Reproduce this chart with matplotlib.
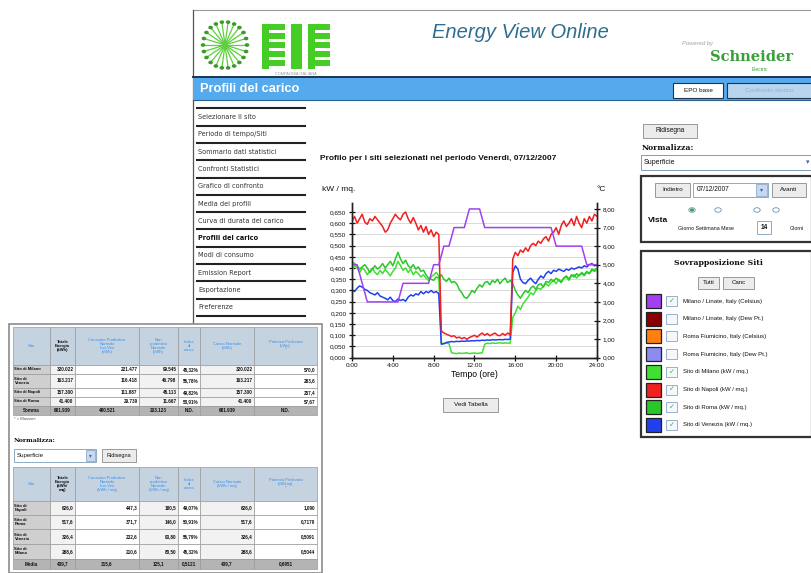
#!/usr/bin/env python3
"""
Energy View Online screenshot: load profiles for the selected sites (07/12/2007).
"""

import matplotlib

matplotlib.use("Agg")
import matplotlib.pyplot as plt
import numpy as np
from matplotlib.patches import Rectangle, Circle
from matplotlib.ticker import FixedLocator, FuncFormatter

W, H = 812, 573
UI_FONT = ["Liberation Sans", "DejaVu Sans"]

# ---- chart data ----
# 15-minute values, kW / mq.
TIME_15 = np.linspace(0, 24, 97)
NAPOLI = [
    0.610, 0.630, 0.600, 0.620, 0.640, 0.605, 0.595, 0.620,
    0.610, 0.630, 0.615, 0.600, 0.585, 0.560, 0.570, 0.600,
    0.620, 0.640, 0.625, 0.615, 0.640, 0.650, 0.620, 0.600,
    0.625, 0.600, 0.570, 0.590, 0.560, 0.585, 0.550, 0.570,
    0.540, 0.560, 0.550, 0.120, 0.110, 0.105, 0.100, 0.095,
    0.098, 0.088, 0.092, 0.085, 0.090, 0.082, 0.090, 0.095,
    0.100, 0.092, 0.102, 0.110, 0.100, 0.108, 0.098, 0.104,
    0.110, 0.100, 0.098, 0.108, 0.100, 0.110, 0.102, 0.440,
    0.470, 0.455, 0.480, 0.470, 0.490, 0.475, 0.500, 0.510,
    0.500, 0.520, 0.510, 0.530, 0.540, 0.520, 0.550, 0.560,
    0.580, 0.550, 0.590, 0.610, 0.585, 0.600, 0.620, 0.590,
    0.630, 0.600, 0.580, 0.620, 0.600, 0.630, 0.610, 0.640,
    0.630,
]
MILANO = [
    0.390, 0.410, 0.400, 0.380, 0.400, 0.390, 0.370, 0.385,
    0.400, 0.380, 0.370, 0.390, 0.375, 0.395, 0.380, 0.365,
    0.385, 0.400, 0.430, 0.410, 0.390, 0.400, 0.380, 0.395,
    0.370, 0.385, 0.375, 0.360, 0.370, 0.355, 0.345, 0.360,
    0.370, 0.380, 0.365, 0.065, 0.062, 0.065, 0.063, 0.022,
    0.020, 0.018, 0.021, 0.019, 0.020, 0.022, 0.018, 0.020,
    0.021, 0.019, 0.020, 0.022, 0.060, 0.065, 0.063, 0.066,
    0.064, 0.065, 0.067, 0.064, 0.066, 0.065, 0.065, 0.180,
    0.200, 0.230, 0.215, 0.240, 0.255, 0.270, 0.290, 0.280,
    0.300, 0.310, 0.305, 0.320, 0.330, 0.320, 0.335, 0.345,
    0.330, 0.350, 0.340, 0.355, 0.360, 0.345, 0.365, 0.370,
    0.355, 0.370, 0.375, 0.365, 0.380, 0.375, 0.390, 0.385,
    0.390,
]
ROMA = [
    0.430, 0.420, 0.410, 0.395, 0.405, 0.415, 0.400, 0.380,
    0.395, 0.410, 0.395, 0.405, 0.420, 0.400, 0.415, 0.430,
    0.410, 0.440, 0.470, 0.440, 0.420, 0.435, 0.410, 0.400,
    0.415, 0.395, 0.405, 0.385, 0.390, 0.370, 0.355, 0.350,
    0.345, 0.360, 0.355, 0.370, 0.350, 0.340, 0.355, 0.335,
    0.340, 0.330, 0.305, 0.290, 0.270, 0.265, 0.280, 0.300,
    0.290, 0.310, 0.325, 0.315, 0.335, 0.340, 0.325, 0.345,
    0.335, 0.350, 0.330, 0.345, 0.355, 0.335, 0.345, 0.330,
    0.300, 0.280, 0.265, 0.285, 0.300, 0.290, 0.310, 0.320,
    0.305, 0.325, 0.330, 0.315, 0.340, 0.335, 0.350, 0.340,
    0.355, 0.345, 0.335, 0.355, 0.365, 0.350, 0.370, 0.360,
    0.375, 0.365, 0.380, 0.370, 0.385, 0.375, 0.395, 0.390,
    0.400,
]
VENEZIA = [
    0.300, 0.295, 0.310, 0.320, 0.315, 0.305, 0.300, 0.290,
    0.285, 0.280, 0.290, 0.275, 0.270, 0.265, 0.258, 0.270,
    0.255, 0.250, 0.262, 0.255, 0.260, 0.252, 0.270, 0.280,
    0.275, 0.285, 0.280, 0.295, 0.285, 0.295, 0.290, 0.300,
    0.290, 0.295, 0.285, 0.060, 0.063, 0.068, 0.070, 0.072,
    0.071, 0.073, 0.072, 0.074, 0.073, 0.075, 0.074, 0.076,
    0.075, 0.077, 0.076, 0.078, 0.077, 0.079, 0.078, 0.080,
    0.079, 0.080, 0.081, 0.080, 0.082, 0.081, 0.083, 0.380,
    0.410, 0.395, 0.350, 0.335, 0.330, 0.345, 0.355, 0.340,
    0.330, 0.350, 0.365, 0.355, 0.375, 0.385, 0.375, 0.390,
    0.385, 0.395, 0.390, 0.385, 0.395, 0.390, 0.400, 0.395,
    0.400, 0.405, 0.400, 0.410, 0.405, 0.415, 0.420, 0.410,
    0.415,
]
# half-hourly temperature, Milano / Linate (Celsius), right axis
TIME_30 = np.linspace(0, 24, 49)
LINATE_C = [
    5, 5, 4, 3, 3, 3, 3, 3, 3, 3, 4, 4, 4, 4, 4, 4,
    5, 5, 6, 6, 7, 7, 7, 8, 8, 8, 7, 7, 7, 7, 7, 7,
    7, 7, 7, 7, 7, 7, 7, 7, 6, 6, 6, 6, 6, 6, 5, 5, 5,
]

LEFT_TICKS = [0.0, 0.05, 0.10, 0.15, 0.20, 0.25, 0.30, 0.35, 0.40, 0.45, 0.50, 0.55, 0.60, 0.65]
RIGHT_TICKS = [0, 1, 2, 3, 4, 5, 6, 7, 8]
X_TICKS = [0, 4, 8, 12, 16, 20, 24]
X_LABELS = ["0:00", "4:00", "8:00", "12:00", "16:00", "20:00", "24:00"]

MENU_ITEMS = [
    "Selezionare il sito", "Periodo di tempo/Siti", "Sommario dati statistici",
    "Confronti Statistici", "Grafico di confronto", "Media dei profili",
    "Curva di durata del carico", "Profili del carico", "Modi di consumo",
    "Emission Report", "Esportazione", "Preferenze",
]
LEGEND_LABELS = [
    "Milano / Linate, Italy (Celsius)", "Milano / Linate, Italy (Dew Pt.)",
    "Roma Fiumicino, Italy (Celsius)", "Roma Fiumicino, Italy (Dew Pt.)",
    "Sito di Milano (kW / mq.)", "Sito di Napoli (kW / mq.)",
    "Sito di Roma (kW / mq.)", "Sito di Venezia (kW / mq.)",
]
LEGEND_COLORS = ["#a040f0", "#8a0000", "#ff8010", "#8c8cf0", "#40e030", "#f02020", "#28c828", "#2040f0"]
LEGEND_CHECKED = [True, False, False, False, True, True, True, True]

# table overlay (bottom left)
TAB1_HEAD = ["Sito", "Totale\nEnergia\n(kWh)", "Consumo Produttivo\nNormale\nLun-Ven\n(kWh)",
             "Non\nproduttivo\nNormale\n(kWh)", "Indice\ndi\ncarico", "Carico Normale\n(kWh)",
             "Potenza Prelevata\n(kWp)\n*"]
TAB1_ROWS = [
    ["Sito di Milano", "320.022", "221.477", "99.545", "45,32%", "320.022", "570,0"],
    ["Sito di\nVenezia", "163.217", "116.418", "46.798", "55,78%", "163.217", "283,6"],
    ["Sito di Napoli", "157.300", "111.887", "45.113", "49,82%", "157.300", "257,4"],
    ["Sito di Roma", "41.400", "29.739", "11.667", "58,91%", "41.400", "57,67"],
    ["Somma", "681.939", "480.521", "203.123", "N.D.", "681.939", "N.D."],
]
TAB2_HEAD = ["Sito", "Totale\nEnergia\n(kWh/\nmq)", "Consumo Produttivo\nNormale\nLun-Ven\n(kWh / mq)",
             "Non\nproduttivo\nNormale\n(kWh / mq)", "Indice\ndi\ncarico", "Carico Normale\n(kWh / mq)",
             "Potenza Prelevata\n(kW/mq)\n*"]
TAB2_ROWS = [
    ["Sito di\nNapoli", "626,0", "447,3", "180,5", "49,07%", "626,0", "1,090"],
    ["Sito di\nRoma", "517,6", "371,7", "146,0", "50,91%", "517,6", "0,7179"],
    ["Sito di\nVenezia", "326,4", "232,6", "93,80", "55,79%", "326,4", "0,5091"],
    ["Sito di\nMilano", "288,6", "210,6", "80,50", "45,32%", "288,6", "0,5044"],
    ["Media", "439,7", "315,6", "125,1", "0,5121", "439,7", "0,6951"],
]


def fx(x):
    return x / W


def fy(y):
    return 1 - y / H


def box(fig, x0, y0, x1, y1, fc="white", ec="#888888", lw=0.6, z=1):
    fig.patches.append(Rectangle((fx(x0), fy(y1)), (x1 - x0) / W, (y1 - y0) / H,
                                 transform=fig.transFigure, facecolor=fc, edgecolor=ec,
                                 linewidth=lw, zorder=z))


def hline(fig, x0, x1, y, color="#222222", lw=1.0, z=2):
    fig.add_artist(plt.Line2D([fx(x0), fx(x1)], [fy(y), fy(y)], transform=fig.transFigure,
                              color=color, linewidth=lw, zorder=z))


def vline(fig, x, y0, y1, color="#222222", lw=1.0, z=2):
    fig.add_artist(plt.Line2D([fx(x), fx(x)], [fy(y0), fy(y1)], transform=fig.transFigure,
                              color=color, linewidth=lw, zorder=z))


def label(fig, x, y, s, size=5.0, **kw):
    kw.setdefault("va", "center")
    kw.setdefault("family", UI_FONT)
    kw.setdefault("color", "#111111")
    fig.text(fx(x), fy(y), s, fontsize=size, **kw)


def button(fig, x0, y0, x1, y1, s, size=4.8, z=3):
    box(fig, x0, y0, x1, y1, fc="#ececec", ec="#8a8a8a", lw=0.6, z=z)
    label(fig, (x0 + x1) / 2, (y0 + y1) / 2, s, size=size, ha="center", zorder=z + 1)


def draw_header(fig):
    hline(fig, 193, 812, 10, color="#999999", lw=0.8)
    vline(fig, 193, 10, 438, color="#555555", lw=0.9)

    # sunburst logo
    cx, cy = 225, 45
    for ang in np.linspace(0, 2 * np.pi, 22, endpoint=False):
        r = 22
        ex, ey = cx + r * np.cos(ang), cy + r * np.sin(ang) * 1.05
        fig.add_artist(plt.Line2D([fx(cx), fx(ex)], [fy(cy), fy(ey)], transform=fig.transFigure,
                                  color="#5ccf3a", linewidth=0.9, zorder=3))
        fig.add_artist(Circle((fx(ex), fy(ey)), 1.6 / W, transform=fig.transFigure,
                              color="#3d9a2a", zorder=4))
    # EIE blocks
    green = "#45cc25"
    for x0, x1 in [(262, 285), (308, 330)]:
        box(fig, x0, 24, x0 + 7, 69, fc=green, ec="none", z=3)
        for y0 in (24, 33, 42, 51, 60):
            box(fig, x0, y0, x1, y0 + 6, fc=green, ec="none", z=3)
    box(fig, 291, 24, 302, 69, fc=green, ec="none", z=3)
    label(fig, 296, 18, "·  ·  ·  ·  ·  ·  ·", size=4, ha="center", color="#9a9a9a")
    label(fig, 296, 74, "COMPAGNIA ITALIANA", size=2.8, ha="center", color="#9a9a9a")

    label(fig, 520, 33, "Energy View Online", size=14.5, ha="center", style="italic",
          color="#2f6d8e")
    label(fig, 698, 44, "Powered by", size=4.2, ha="center", style="italic", color="#9aa6a0")
    label(fig, 752, 57, "Schneider", size=10.5, ha="center", weight="bold", color="#3a9e3a",
          family=["DejaVu Serif"])
    label(fig, 760, 70, "Electric", size=3.5, ha="center", color="#3a9e3a")

    # title bar
    box(fig, 193, 77, 812, 100, fc="#55aaee", ec="none", z=2)
    hline(fig, 193, 812, 77, color="#1d3550", lw=1.4, z=3)
    hline(fig, 193, 812, 100, color="#2c5f90", lw=0.8, z=3)
    label(fig, 200, 88.5, "Profili del carico", size=9.2, weight="bold", color="white", zorder=4)
    box(fig, 673, 83, 723, 98, fc="white", ec="#1d3550", lw=0.8, z=4)
    label(fig, 698, 90.5, "EPO base", size=4.6, ha="center", zorder=5)
    box(fig, 727, 83, 812, 98, fc="#b9d4ee", ec="#1d3550", lw=0.8, z=4)
    label(fig, 769, 90.5, "Confronto storico", size=4.6, ha="center", color="#8fb0d0", zorder=5)


def draw_menu(fig):
    y = 117.0
    step = 17.3
    hline(fig, 197, 305, y - step / 2, lw=1.5)
    for item in MENU_ITEMS:
        bold = item == "Profili del carico"
        label(fig, 198, y, item, size=4.7, family=["DejaVu Sans"],
              weight="bold" if bold else "normal", color="#111111" if bold else "#333333")
        hline(fig, 197, 305, y + step / 2, lw=1.5)
        y += step


def draw_chart(fig):
    ax = fig.add_axes([fx(352), fy(357.7), 245 / W, 154.7 / H])
    ax2 = ax.twinx()
    for a in (ax, ax2):
        a.set_xlim(0, 24)
        a.spines["top"].set_visible(False)
        a.set_facecolor("none")
    ax.set_ylim(0, 0.690)
    ax2.set_ylim(0, 8.32)

    ax.yaxis.set_major_locator(FixedLocator(LEFT_TICKS))
    ax.yaxis.set_major_formatter(FuncFormatter(lambda v, p: f"{v:.3f}".replace(".", ",")))
    ax2.yaxis.set_major_locator(FixedLocator(RIGHT_TICKS))
    ax2.yaxis.set_major_formatter(FuncFormatter(lambda v, p: f"{v:.2f}".replace(".", ",")))
    ax.set_xticks(X_TICKS)
    ax.set_xticklabels(X_LABELS)
    for a in (ax, ax2):
        a.tick_params(direction="inout", length=5, width=0.9, labelsize=4.6, pad=1.5,
                      colors="#111111")
        for s in a.spines.values():
            s.set_linewidth(1.0)
            s.set_color("#222222")
        for t in a.get_xticklabels() + a.get_yticklabels():
            t.set_family(UI_FONT)
    ax.grid(axis="y", color="#d9d9d9", linewidth=0.7)
    ax.set_axisbelow(True)

    ax.plot(TIME_15, MILANO, color=LEGEND_COLORS[4], linewidth=1.1, zorder=3)
    ax.plot(TIME_15, ROMA, color=LEGEND_COLORS[6], linewidth=1.1, zorder=3)
    ax.plot(TIME_15, VENEZIA, color=LEGEND_COLORS[7], linewidth=1.1, zorder=3)
    ax.plot(TIME_15, NAPOLI, color=LEGEND_COLORS[5], linewidth=1.1, zorder=4)
    ax2.plot(TIME_30, LINATE_C, color=LEGEND_COLORS[0], linewidth=1.1, zorder=2)

    ax.set_xlabel("Tempo (ore)", fontsize=6.2, family=UI_FONT, labelpad=1)

    label(fig, 320, 158, "Profilo per i siti selezionati nel periodo Venerdì, 07/12/2007",
          size=6.0, weight="bold")
    label(fig, 322, 190, "kW / mq.", size=6.0)
    label(fig, 597, 190, "°C", size=6.0)
    button(fig, 443, 398, 498, 412, "Vedi Tabella", size=4.6)


def draw_panel(fig):
    button(fig, 643, 124, 697, 138, "Ridisegna", size=4.8)
    label(fig, 642, 148, "Normalizza:", size=5.6, weight="bold", family=["DejaVu Serif"])
    box(fig, 641, 155, 812, 170, fc="white", ec="#7f9db9", lw=0.7, z=3)
    label(fig, 644, 162.5, "Superficie", size=5.0, zorder=4)
    label(fig, 808, 162.5, "▾", size=5.0, ha="center", color="#3c62b0", zorder=4)

    box(fig, 641, 176, 812, 242, fc="white", ec="#333333", lw=1.6, z=2)
    button(fig, 655, 183, 690, 197, "Indietro", size=4.5)
    box(fig, 693, 183, 768, 197, fc="white", ec="#7f9db9", lw=0.6, z=3)
    label(fig, 697, 190, "07/12/2007", size=4.8, zorder=4)
    box(fig, 756, 184, 767, 196, fc="#c7d8f3", ec="#7f9db9", lw=0.5, z=4)
    label(fig, 761.5, 190, "▾", size=4.5, ha="center", color="#3c62b0", zorder=5)
    button(fig, 772, 183, 806, 197, "Avanti", size=4.5)
    for rx, on in [(692, True), (718, False), (757, False), (776, False)]:
        fig.add_artist(Circle((fx(rx), fy(210)), 3.2 / W, transform=fig.transFigure,
                              facecolor="white", edgecolor="#6a8fb0", linewidth=0.6, zorder=3))
        if on:
            fig.add_artist(Circle((fx(rx), fy(210)), 1.3 / W, transform=fig.transFigure,
                                  color="#3aa05a", zorder=4))
    label(fig, 648, 220, "Vista", size=6.0, weight="bold")
    label(fig, 678, 228, "Giorno Settimana Mese", size=3.8)
    box(fig, 757, 221, 771, 234, fc="white", ec="#7f9db9", lw=0.6, z=3)
    label(fig, 764, 227.5, "14", size=4.8, ha="center", weight="bold", zorder=4)
    label(fig, 790, 228, "Giorni", size=3.8)

    box(fig, 641, 251, 812, 437, fc="white", ec="#333333", lw=1.6, z=2)
    label(fig, 718, 263, "Sovrapposizione Siti", size=5.6, ha="center", weight="bold",
          family=["DejaVu Serif"])
    button(fig, 698, 277, 719, 289, "Tutti", size=4.4)
    button(fig, 723, 277, 754, 289, "Canc", size=4.4)
    for i, (txt, col, chk) in enumerate(zip(LEGEND_LABELS, LEGEND_COLORS, LEGEND_CHECKED)):
        yc = 301 + i * 17.7
        box(fig, 646, yc - 7, 661, yc + 7, fc=col, ec="#222222", lw=0.9, z=3)
        box(fig, 666, yc - 5, 677, yc + 5, fc="#f4f7fb", ec="#8aa4c0", lw=0.6, z=3)
        if chk:
            label(fig, 671.5, yc, "✓", size=5.0, ha="center", color="#40b040",
                  family=["DejaVu Sans"], zorder=4)
        label(fig, 683, yc, txt, size=4.3)


def draw_table(fig, x_edges, top, head_h, row_hs, head, rows, head_size=3.0):
    # header
    y = top
    for j, h in enumerate(head):
        box(fig, x_edges[j], y, x_edges[j + 1], y + head_h, fc="#c5d3e0", ec="#9a9a9a",
            lw=0.5, z=6)
        col = "#111111" if j == 1 else "#3d8fe6"
        label(fig, (x_edges[j] + x_edges[j + 1]) / 2, y + head_h / 2, h, size=head_size,
              ha="center", color=col, weight="bold" if j == 1 else "normal",
              linespacing=1.0, zorder=7)
    y += head_h
    for i, (row, rh) in enumerate(zip(rows, row_hs)):
        last = i == len(rows) - 1
        for j, cell in enumerate(row):
            if last:
                fc = "#b4b4b4"
            elif j == 0:
                fc = "#cfcfcf"
            else:
                fc = "#f2f2f2" if j % 2 else "#ffffff"
            box(fig, x_edges[j], y, x_edges[j + 1], y + rh, fc=fc, ec="#9a9a9a", lw=0.5, z=6)
            if j == 0 and not last:
                label(fig, x_edges[j] + 1.5, y + rh / 2, cell, size=3.0, weight="bold",
                      linespacing=1.0, zorder=7)
            else:
                label(fig, x_edges[j + 1] - 1.5 if not last else (x_edges[j] + x_edges[j + 1]) / 2,
                      y + rh / 2, cell, size=3.3, weight="bold",
                      ha="right" if not last else "center", zorder=7)
        y += rh


def draw_overlay(fig):
    box(fig, 9, 324, 322, 573, fc="white", ec="#8c8c8c", lw=1.2, z=5)
    edges = [13, 50, 75, 139, 178, 200, 254, 317]
    draw_table(fig, edges, 327, 38, [9, 14, 9, 9, 9], TAB1_HEAD, TAB1_ROWS)
    label(fig, 14, 419, "* = Massimi", size=3.0, color="#555555", zorder=7)
    label(fig, 14, 441, "Normalizza:", size=4.5, weight="bold", family=["DejaVu Serif"], zorder=7)
    box(fig, 14, 449, 96, 462, fc="white", ec="#7f9db9", lw=0.6, z=6)
    label(fig, 17, 455.5, "Superficie", size=4.4, zorder=7)
    box(fig, 86, 450, 95, 461, fc="#c7d8f3", ec="#7f9db9", lw=0.5, z=7)
    label(fig, 90.5, 455.5, "▾", size=4.0, ha="center", color="#3c62b0", zorder=8)
    button(fig, 102, 449, 136, 462, "Ridisegna", size=4.0, z=6)
    draw_table(fig, edges, 467, 34, [14, 14, 15, 15, 10], TAB2_HEAD, TAB2_ROWS)


def main():
    fig = plt.figure(figsize=(W / 100, H / 100), dpi=100)
    fig.patch.set_facecolor("white")
    draw_header(fig)
    draw_menu(fig)
    draw_chart(fig)
    draw_panel(fig)
    draw_overlay(fig)
    fig.savefig("out.png", dpi=100, facecolor="white")
    plt.close(fig)


if __name__ == "__main__":
    main()
